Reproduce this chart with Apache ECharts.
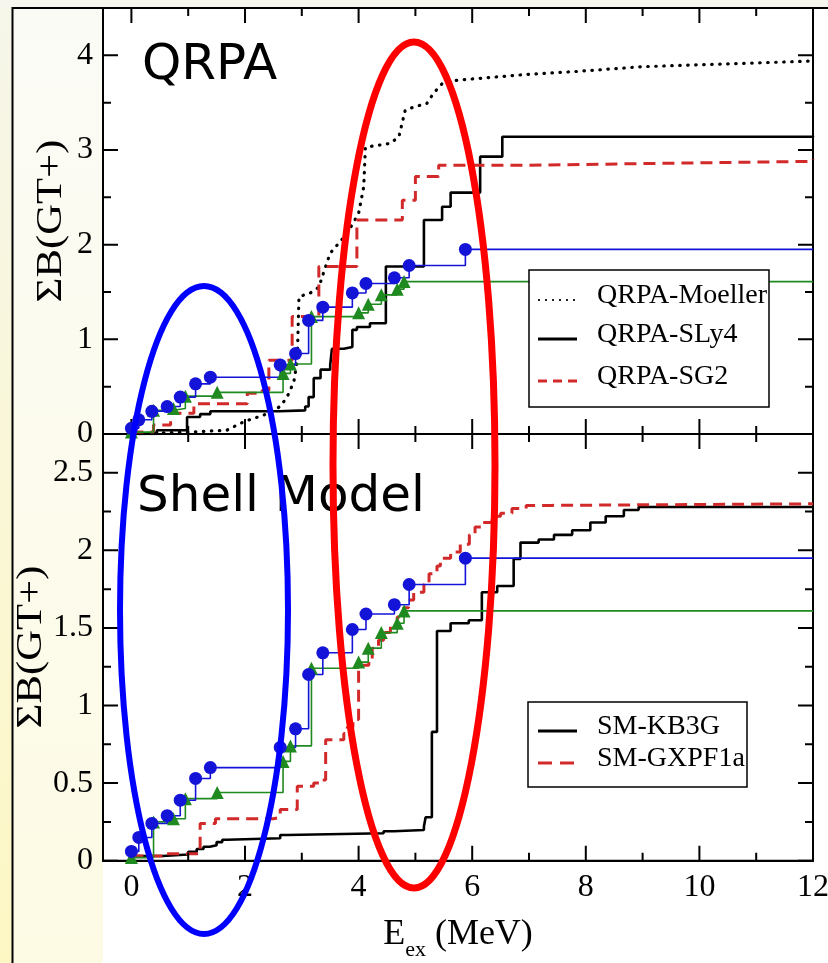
<!DOCTYPE html>
<html>
<head>
<meta charset="utf-8">
<title>Cumulative GT+ strength</title>
<script src="https://cdn.jsdelivr.net/npm/echarts@6/dist/echarts.min.js"></script>
<style>
  html, body { margin: 0; padding: 0; background: #ffffff; }
  #chart { width: 828px; height: 963px; }
</style>
</head>
<body>
<div id="chart"></div>
<script>
// ---- energy axis ----
const X_MIN = -0.5;
const X_MAX = 12;
const xLabelSplit = 6;   // label step of 2 MeV
const xMajorTicks = [0, 2, 4, 6, 8, 10, 12];
const xMinorTicks = [1, 3, 5, 7, 9, 11];

// ---- strength axes (upper: QRPA, lower: shell model) ----
const yTopMax = 4.5;
const yTopStep = 1;
const yTopMajorTicks = [0, 1, 2, 3, 4];
const yTopMinorTicks = [0.5, 1.5, 2.5, 3.5];
const yBotMax = 2.75;
const yBotStep = 0.5;
const yBotMajorTicks = [0, 0.5, 1, 1.5, 2, 2.5];
const yBotMinorTicks = [0.25, 0.75, 1.25, 1.75, 2.25];

// ---- experimental data (shown in both panels) ----
const expCircleE = [0.0, 0.13, 0.36, 0.63, 0.86, 1.13, 1.39, 2.62, 2.89, 3.12, 3.37, 3.89, 4.13, 4.63, 4.89, 5.88, 12];
const expCircleB = [0.06, 0.15, 0.24, 0.29, 0.39, 0.53, 0.60, 0.73, 0.85, 1.20, 1.34, 1.49, 1.59, 1.65, 1.78, 1.95, 1.95];
const expTriE = [0.0, 0.39, 0.74, 0.95, 1.51, 2.67, 2.80, 3.17, 4.00, 4.17, 4.40, 4.68, 4.80, 12];
const expTriB = [0.02, 0.25, 0.27, 0.40, 0.44, 0.64, 0.74, 1.24, 1.28, 1.37, 1.47, 1.53, 1.61, 1.61];

// ---- QRPA calculations ----
const moellerE = [0, 0.5, 1.0, 1.68, 1.98, 2.33, 2.62, 2.74, 2.86, 2.92, 2.95, 3.15, 3.3, 3.42, 3.5, 3.8, 4.0, 4.09, 4.12, 4.35, 4.56, 4.71, 4.82, 5.0, 5.2, 5.32, 5.5, 5.8, 6.4, 7.0, 7.85, 9.0, 10.5, 12];
const moellerB = [0.0, 0.01, 0.02, 0.04, 0.13, 0.2, 0.29, 0.39, 0.55, 0.78, 1.45, 1.49, 1.55, 1.77, 1.91, 2.12, 2.33, 2.61, 3.03, 3.05, 3.07, 3.14, 3.42, 3.46, 3.49, 3.6, 3.72, 3.74, 3.77, 3.8, 3.83, 3.88, 3.91, 3.94];
const sly4E = [0, 0.45, 0.98, 1.21, 1.39, 2.6, 3.06, 3.12, 3.21, 3.33, 3.5, 3.53, 3.74, 3.89, 3.97, 4.2, 4.48, 5.15, 5.47, 5.62, 6.14, 6.53, 12];
const sly4B = [0.0, 0.04, 0.18, 0.21, 0.24, 0.25, 0.29, 0.39, 0.59, 0.68, 0.73, 0.9, 0.92, 1.10, 1.13, 1.17, 1.77, 2.26, 2.40, 2.55, 2.93, 3.14, 3.15];
const sg2E = [0, 0.39, 0.69, 1.1, 2.04, 2.3, 2.42, 2.83, 3.3, 3.97, 4.77, 5.0, 5.41, 7.0, 9.5, 12];
const sg2B = [0.02, 0.095, 0.22, 0.32, 0.43, 0.46, 0.78, 1.24, 1.77, 2.26, 2.47, 2.72, 2.84, 2.86, 2.88, 2.90];

// ---- shell-model calculations ----
const kb3gE = [0, 0.55, 1.0, 1.15, 1.27, 1.38, 1.5, 1.6, 1.68, 2.62, 2.74, 4.44, 4.62, 5.15, 5.18, 5.29, 5.38, 5.62, 5.94, 6.17, 6.44, 6.73, 6.85, 7.17, 7.44, 7.76, 8.08, 8.35, 8.67, 8.93, 12];
const kb3gB = [0.03, 0.04, 0.058, 0.075, 0.09, 0.10, 0.12, 0.135, 0.145, 0.166, 0.177, 0.19, 0.198, 0.22, 0.28, 0.83, 1.48, 1.53, 1.55, 1.73, 1.77, 1.945, 2.05, 2.07, 2.10, 2.13, 2.18, 2.22, 2.26, 2.28, 2.28];
const gxpfE = [0, 0.55, 1.21, 1.48, 2.5, 2.62, 2.92, 3.21, 3.33, 3.42, 3.74, 3.8, 3.9, 4.0, 4.18, 4.24, 4.35, 4.44, 4.56, 4.68, 4.79, 4.88, 4.97, 5.15, 5.24, 5.38, 5.44, 5.62, 5.79, 5.95, 6.05, 6.17, 6.35, 6.5, 6.7, 6.95, 7.4, 12];
const gxpfB = [0.03, 0.045, 0.24, 0.27, 0.28, 0.33, 0.48, 0.50, 0.52, 0.78, 0.82, 0.86, 0.91, 1.26, 1.30, 1.37, 1.42, 1.47, 1.51, 1.57, 1.63, 1.68, 1.73, 1.78, 1.85, 1.90, 1.95, 1.99, 2.04, 2.10, 2.15, 2.18, 2.22, 2.24, 2.27, 2.29, 2.30, 2.30];

// ---- text ----
const yTitle = 'ΣB(GT+)';
const topLegend = ['QRPA-Moeller', 'QRPA-SLy4', 'QRPA-SG2'];
const botLegend = ['SM-KB3G', 'SM-GXPF1a'];

const SERIF = 'Liberation Serif';
const BLACK = '#000000';
const RED = '#d22a2a';
const BLUE = '#1414d8';
const GREEN = '#1f8a1f';

// panel geometry (pixels)
const PLOT_LEFT = 103, PLOT_RIGHT_GAP = 15, PLOT_W = 710;
const TOP_Y = 8, TOP_H = 426, BOT_Y = 434, BOT_H = 426.7;
const MAJOR_LEN = 15;
const MINOR_LEN = 8;

function pairs(xs, ys) {
  return xs.map((x, i) => [x, ys[i]]);
}
// markers on every level except the closing point at the axis end
function markedPairs(xs, ys) {
  return xs.map((x, i) => i === xs.length - 1 ? { value: [x, ys[i]], symbol: 'none' } : [x, ys[i]]);
}

function xAxisOf(gridIndex, labels, extra) {
  return Object.assign({
    type: 'value', gridIndex, position: 'bottom', min: X_MIN, max: X_MAX, splitNumber: xLabelSplit,
    axisLine: { show: true, onZero: false, lineStyle: { color: BLACK, width: 2 } },
    axisTick: { show: false },
    axisLabel: { show: labels, margin: 11, showMinLabel: false, fontFamily: SERIF, fontSize: 32, color: BLACK },
    splitLine: { show: false }
  }, extra || {});
}
function yAxisOf(gridIndex, max, step) {
  return {
    type: 'value', gridIndex, position: 'left', min: 0, max: max, interval: step,
    axisLine: { show: true, onZero: false, lineStyle: { color: BLACK, width: 2 } },
    axisTick: { show: false },
    axisLabel: { show: true, margin: 10, showMaxLabel: false, fontFamily: SERIF, fontSize: 32, color: BLACK },
    splitLine: { show: false }
  };
}

const xName = {
  name: '{e|E}{s|ex}{t| (MeV)}',
  nameLocation: 'middle', nameGap: 47,
  nameTextStyle: {
    color: BLACK, fontFamily: SERIF,
    rich: {
      e: { fontFamily: SERIF, fontSize: 36, color: BLACK, verticalAlign: 'middle' },
      s: { fontFamily: SERIF, fontSize: 22, color: BLACK, verticalAlign: 'middle', padding: [32, 0, 0, 0] },
      t: { fontFamily: SERIF, fontSize: 36, color: BLACK, verticalAlign: 'middle' }
    }
  }
};

// ---- inward tick marks on all four sides, drawn as broken line series in data units ----
const GAP = ['-', '-'];
function xTickData(yMax, plotH) {
  const perPx = yMax / plotH;
  const out = [];
  const add = (vals, len) => vals.forEach(v => {
    out.push([v, 0], [v, len * perPx], GAP, [v, yMax], [v, yMax - len * perPx], GAP);
  });
  add(xMajorTicks, MAJOR_LEN);
  add(xMinorTicks, MINOR_LEN);
  return out;
}
function yTickData(majors, minors) {
  const perPx = (X_MAX - X_MIN) / PLOT_W;
  const out = [];
  const add = (vals, len) => vals.forEach(v => {
    out.push([X_MIN, v], [X_MIN + len * perPx, v], GAP, [X_MAX, v], [X_MAX - len * perPx, v], GAP);
  });
  add(majors, MAJOR_LEN);
  add(minors, MINOR_LEN);
  return out;
}
function tickSeries(axis, data) {
  return {
    type: 'line', xAxisIndex: axis, yAxisIndex: axis, data, symbol: 'none',
    connectNulls: false, silent: true, z: 3, clip: false,
    lineStyle: { color: BLACK, width: 2 }
  };
}

function stepLine(name, axis, data, color, width, type) {
  return {
    name, type: 'line', step: 'end', xAxisIndex: axis, yAxisIndex: axis,
    data, symbol: 'none', z: 2,
    lineStyle: { color, width, type: type || 'solid' }
  };
}
function expSeries(name, axis, data, color, symbol) {
  return {
    name, type: 'line', step: 'end', xAxisIndex: axis, yAxisIndex: axis,
    data, symbol, symbolSize: 13, z: 4,
    itemStyle: { color }, lineStyle: { color, width: 1.6 }
  };
}

const series = [
  tickSeries(0, xTickData(yTopMax, TOP_H)),
  tickSeries(0, yTickData(yTopMajorTicks, yTopMinorTicks)),
  tickSeries(1, xTickData(yBotMax, BOT_H)),
  tickSeries(1, yTickData(yBotMajorTicks, yBotMinorTicks)),

  {
    name: topLegend[0], type: 'line', xAxisIndex: 0, yAxisIndex: 0,
    data: pairs(moellerE, moellerB), symbol: 'none', z: 2,
    lineStyle: { color: BLACK, width: 3.2, type: [0.5, 7.5], cap: 'round' }
  },
  stepLine(topLegend[1], 0, pairs(sly4E, sly4B), BLACK, 2.6),
  stepLine(topLegend[2], 0, pairs(sg2E, sg2B), RED, 3, [12, 7]),
  expSeries('exp-triangles-top', 0, markedPairs(expTriE, expTriB), GREEN, 'triangle'),
  expSeries('exp-circles-top', 0, markedPairs(expCircleE, expCircleB), BLUE, 'circle'),

  stepLine(botLegend[0], 1, pairs(kb3gE, kb3gB), BLACK, 2.6),
  stepLine(botLegend[1], 1, pairs(gxpfE, gxpfB), RED, 3, [12, 7]),
  expSeries('exp-triangles-bottom', 1, markedPairs(expTriE, expTriB), GREEN, 'triangle'),
  expSeries('exp-circles-bottom', 1, markedPairs(expCircleE, expCircleB), BLUE, 'circle')
];

// ---- page dressing, axis titles, legends and annotations ----
const LG = echarts.graphic.LinearGradient;
function legendRow(x, y, text, stroke, width, dash) {
  return [
    { type: 'line', z: 61, silent: true, shape: { x1: x, y1: y, x2: x + 39, y2: y },
      style: { stroke, lineWidth: width, lineDash: dash || null } },
    { type: 'text', z: 61, silent: true,
      style: { x: x + 59, y: y - 4, text, fontFamily: SERIF, fontSize: 28, fill: BLACK, verticalAlign: 'middle' } }
  ];
}
function yTitleAt(cx, cy) {
  return { type: 'text', z: 20, silent: true, x: cx, y: cy, rotation: Math.PI / 2, scaleX: 1.22,
    style: { text: yTitle, fontFamily: SERIF, fontSize: 35, fill: BLACK, align: 'center', verticalAlign: 'middle' } };
}
const graphics = [
  { type: 'rect', z: -10, silent: true, shape: { x: 0, y: 0, width: 13, height: 963 },
    style: { fill: new LG(0, 0, 0, 1, [{ offset: 0, color: '#f6f6ea' }, { offset: 1, color: '#fdf7c4' }]) } },
  { type: 'rect', z: -10, silent: true, shape: { x: 0, y: 0, width: 828, height: 8 }, style: { fill: '#f6f6ee' } },
  { type: 'rect', z: -10, silent: true, shape: { x: 13, y: 8, width: 90, height: 955 },
    style: { fill: new LG(0, 0, 0, 1, [{ offset: 0, color: '#fbfbf6' }, { offset: 1, color: '#fdfbe4' }]) } },
  { type: 'line', z: 5, silent: true, shape: { x1: 12.5, y1: 7, x2: 12.5, y2: 963 }, style: { stroke: BLACK, lineWidth: 2 } },
  { type: 'line', z: 5, silent: true, shape: { x1: 12, y1: 8, x2: 828, y2: 8 }, style: { stroke: BLACK, lineWidth: 2 } },

  yTitleAt(52, 221),
  yTitleAt(32, 647),

  // upper legend
  { type: 'rect', z: 60, silent: true, shape: { x: 529, y: 270, width: 240, height: 137 },
    style: { fill: '#ffffff', stroke: BLACK, lineWidth: 1.5 } },
  ...legendRow(538, 300, topLegend[0], '#222222', 2, [2, 5]),
  ...legendRow(538, 339, topLegend[1], BLACK, 3),
  ...legendRow(538, 381, topLegend[2], RED, 3, [9, 6]),

  // lower legend
  { type: 'rect', z: 60, silent: true, shape: { x: 528, y: 702, width: 219, height: 85 },
    style: { fill: '#ffffff', stroke: BLACK, lineWidth: 1.5 } },
  ...legendRow(538, 731, botLegend[0], BLACK, 3),
  ...legendRow(538, 763, botLegend[1], RED, 3, [14, 8]),

  // panel titles
  { type: 'text', z: 90, silent: true,
    style: { x: 142, y: 66, text: 'QRPA', fontFamily: 'DejaVu Sans', fontSize: 50, fill: BLACK, verticalAlign: 'middle' } },
  { type: 'text', z: 90, silent: true,
    style: { x: 137, y: 498, text: 'Shell Model', fontFamily: 'DejaVu Sans', fontSize: 50, fill: BLACK, verticalAlign: 'middle' } },

  // highlight rings
  { type: 'ellipse', z: 100, silent: true, shape: { cx: 204, cy: 610, rx: 84, ry: 324 },
    style: { fill: 'none', stroke: '#0000ff', lineWidth: 6 } },
  { type: 'ellipse', z: 100, silent: true, shape: { cx: 414, cy: 465, rx: 81, ry: 423 },
    style: { fill: 'none', stroke: '#ff0000', lineWidth: 7 } }
];

const chart = echarts.init(document.getElementById('chart'), null, { renderer: 'canvas' });
chart.setOption({
  animation: false,
  backgroundColor: '#ffffff',
  grid: [
    { left: PLOT_LEFT, right: PLOT_RIGHT_GAP, top: TOP_Y, height: TOP_H, outerBoundsMode: 'none',
      show: true, borderColor: BLACK, borderWidth: 2, backgroundColor: 'transparent' },
    { left: PLOT_LEFT, right: PLOT_RIGHT_GAP, top: BOT_Y, height: BOT_H, outerBoundsMode: 'none',
      show: true, borderColor: BLACK, borderWidth: 2, backgroundColor: 'transparent' }
  ],
  xAxis: [xAxisOf(0, false), xAxisOf(1, true, xName)],
  yAxis: [yAxisOf(0, yTopMax, yTopStep), yAxisOf(1, yBotMax, yBotStep)],
  series,
  graphic: graphics
});
</script>
</body>
</html>
